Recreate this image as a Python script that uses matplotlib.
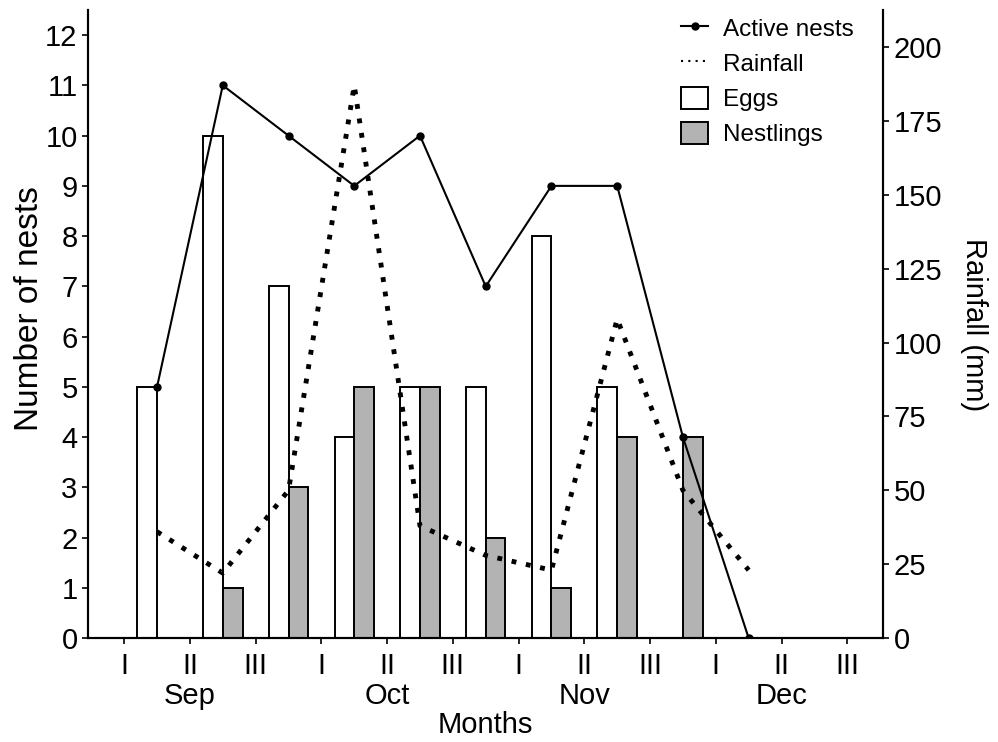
import numpy as np
import matplotlib.pyplot as plt
import matplotlib.transforms as mtransforms
from matplotlib.lines import Line2D

plt.rcParams['font.family'] = ['Liberation Sans', 'DejaVu Sans']

decades = ["Sep I", "Sep II", "Sep III", "Oct I", "Oct II", "Oct III",
           "Nov I", "Nov II", "Nov III", "Dec I"]
active = [5, 11, 10, 9, 10, 7, 9, 9, 4, 0]
eggs = [5, 10, 7, 4, 5, 5, 8, 5, 0, 0]
nestlings = [0, 1, 3, 5, 5, 2, 1, 4, 4, 0]
rain = [36, 22, 50, 187, 38, 28, 23, 108, 50, 23]
tick_labels = ["I", "II", "III"] * 4
months = ["Sep", "Oct", "Nov", "Dec"]

fig = plt.figure(figsize=(9.98, 7.42), dpi=100)
ax = fig.add_axes([0.0882, 0.140, 0.797, 0.8465])
ax2 = ax.twinx()

x = np.arange(len(decades)) + 0.5
w = 0.3
b1 = ax.bar(x - w / 2, eggs, w, color="white", edgecolor="black", linewidth=1.4, zorder=2)
b2 = ax.bar(x + w / 2, nestlings, w, color="#b3b3b3", edgecolor="black", linewidth=1.4, zorder=2)
l1, = ax.plot(x, active, "-o", color="black", lw=1.5, ms=5, zorder=3)
ax2.plot(x, rain, color="black", lw=3.5, ls=(0, (1, 2)))

ax.set_xlim(-0.55, 11.55)
ax.set_ylim(0, 12.5)
ax2.set_ylim(0, 212.5)
ax.set_yticks(range(13))
ax2.set_yticks(range(0, 201, 25))
ax.set_xticks(range(12))
ax.set_xticklabels(tick_labels)

for a in (ax, ax2):
    a.spines["top"].set_visible(False)
    for s in a.spines.values():
        s.set_linewidth(1.5)
    a.tick_params(labelsize=21, width=1.2, length=4)
ax.tick_params(axis="x", pad=6)

trans = mtransforms.blended_transform_factory(ax.transData, ax.transAxes)
for i, m in enumerate(months):
    ax.text(3 * i + 1, -0.07, m, transform=trans, ha="center", va="top", fontsize=21)

ax.set_xlabel("Months", fontsize=21, labelpad=22)
ax.set_ylabel("Number of nests", fontsize=24, labelpad=0)
ax.yaxis.label.set_y(0.525)
ax2.set_ylabel("Rainfall (mm)", fontsize=21, rotation=270, labelpad=33)

rain_handle = Line2D([], [], color="black", lw=1.5, ls=(0, (1, 2.5)))
ax.legend([l1, rain_handle, b1, b2], ["Active nests", "Rainfall", "Eggs", "Nestlings"],
          loc="upper right", frameon=False,
          fontsize=17.5, handlelength=1.15, handleheight=1.0, handletextpad=0.6,
          labelspacing=0.45, borderaxespad=0.0, bbox_to_anchor=(0.975, 1.005))
ax2.set_zorder(ax.get_zorder() + 1)
ax2.patch.set_visible(False)

fig.savefig("out.png", dpi=100)
